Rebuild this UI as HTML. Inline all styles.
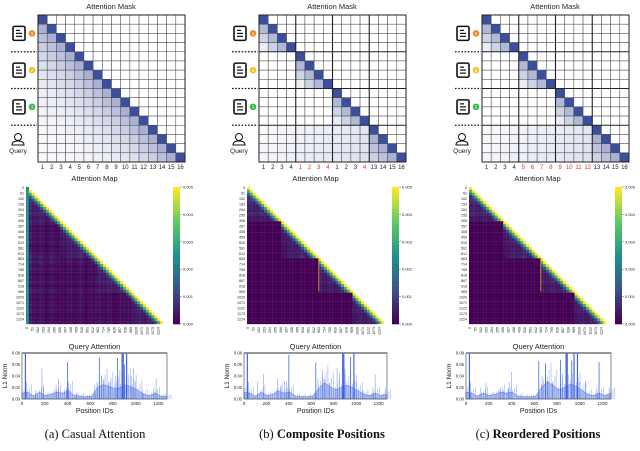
<!DOCTYPE html>
<html><head><meta charset="utf-8"><style>
body{margin:0;background:#fff;width:640px;height:446px;overflow:hidden}
svg text{font-family:"Liberation Sans",sans-serif}
</style></head><body>
<svg id="s" width="640" height="446" viewBox="0 0 640 446" xmlns="http://www.w3.org/2000/svg"></svg>
<script>
// ---------- data ----------
const maskLabelsA = ["1","2","3","4","5","6","7","8","9","10","11","12","13","14","15","16"];
const maskLabelsB = ["1","2","3","4","1","2","3","4","1","2","3","4","13","14","15","16"];
const maskLabelsC = ["1","2","3","4","5","6","7","8","9","10","11","12","13","14","15","16"];
const redB = [4,5,6,7,11];
const redC = [4,5,6,7,8,9,10,11];
const yTickLabels = [0,51,102,153,204,255,306,357,408,459,510,561,612,663,714,765,816,867,918,969,1020,1071,1122,1173,1224];
const cbTicks = [0.000,0.001,0.002,0.003,0.004,0.005];
const blockBounds = [0,306,663,969,1275];
const colNoise = [0.9,0.5,0.7,0.3,0.6,0.4,0.2,0.5,0.3,0.6,0.2,0.4,0.7,0.3,0.5,0.2,0.4,0.6,0.3,0.5,0.2,0.4,0.3,0.5];
const qTicksY = [0.00,0.02,0.04,0.06,0.08];
const qTicksX = [0,200,400,600,800,1000,1200];
const spikesA = [[30,0.08],[40,0.03],[120,0.015],[175,0.053],[190,0.02],[300,0.025],[320,0.035],[390,0.015],[400,0.064],[410,0.03],[480,0.01],[640,0.025],[660,0.03],[680,0.072],[700,0.04],[720,0.035],[760,0.03],[780,0.03],[820,0.04],[840,0.071],[860,0.05],[880,0.08],[890,0.08],[900,0.06],[920,0.08],[960,0.04],[980,0.053],[1000,0.03],[1060,0.015],[1160,0.02],[1180,0.035]];
const spikesB = [[30,0.08],[40,0.03],[120,0.03],[175,0.043],[300,0.035],[330,0.02],[360,0.031],[380,0.031],[400,0.077],[640,0.063],[660,0.035],[700,0.05],[720,0.033],[760,0.028],[830,0.054],[850,0.045],[880,0.08],[890,0.08],[900,0.053],[950,0.073],[980,0.08],[1000,0.03],[1060,0.015],[1150,0.02],[1170,0.043],[1260,0.02]];
const spikesC = [[30,0.08],[40,0.03],[130,0.02],[175,0.028],[300,0.02],[330,0.015],[370,0.02],[380,0.03],[400,0.047],[640,0.066],[670,0.04],[700,0.062],[720,0.032],[760,0.028],[830,0.068],[850,0.045],[880,0.08],[890,0.08],[930,0.067],[950,0.08],[980,0.08],[1000,0.03],[1050,0.03],[1150,0.02],[1170,0.064],[1260,0.02]];
const envA = [0.01,0.012,0.005,0.012,0.006,0.008,0.012,0.01,0.015,0.006,0.005,0.004,0.005,0.02,0.025,0.022,0.018,0.02,0.025,0.02,0.015,0.008,0.006,0.01,0.005,0.004];
const envB = [0.012,0.01,0.005,0.012,0.006,0.008,0.014,0.01,0.012,0.005,0.004,0.004,0.005,0.018,0.028,0.022,0.016,0.02,0.024,0.02,0.014,0.008,0.006,0.01,0.006,0.008];
const envC = [0.012,0.01,0.005,0.01,0.006,0.008,0.012,0.01,0.012,0.005,0.004,0.004,0.005,0.02,0.03,0.024,0.016,0.02,0.026,0.022,0.015,0.008,0.006,0.01,0.006,0.01];

const NS="http://www.w3.org/2000/svg";
const svg=document.getElementById('s');
function mk(tag,at,parent){const e=document.createElementNS(NS,tag);for(const k in at)e.setAttribute(k,at[k]);(parent||svg).appendChild(e);return e;}
function txt(x,y,s,size,extra,parent){const e=mk('text',Object.assign({x:x,y:y,'font-size':size,fill:'#222'},extra||{}),parent);e.textContent=s;return e;}
const stops=[[0,[68,1,84]],[0.25,[59,82,139]],[0.5,[33,145,140]],[0.75,[94,201,98]],[1,[253,231,37]]];
function viridis(t){t=Math.max(0,Math.min(1,t));for(let i=1;i<stops.length;i++){if(t<=stops[i][0]){const a=stops[i-1],b=stops[i];const f=(t-a[0])/(b[0]-a[0]);const c=a[1].map((v,k)=>Math.round(v+(b[1][k]-v)*f));return `rgb(${c})`;}}return 'rgb(253,231,37)';}
function blue(a){const c=[60,79,159];return `rgb(${c.map(v=>Math.round(255+(v-255)*a))})`;}

function panel(p){
  const g=mk('g',{});
  
  
  const gx=p.gx, gy=15, cs=147/16;
  const t=txt(gx+73,9,'Attention Mask',7.5,{'text-anchor':'middle'},g);
  
  for(let r=0;r<16;r++)for(let c=0;c<16;c++){
    let a=0;
    if(c<=r){
      const d=r-c;
      if(p.id==='a'){a=d===0?1:0.55*Math.exp(-d*0.25)+0.02;}
      else{
        const br=Math.floor(r/4),bc=Math.floor(c/4);
        if(br===bc&&br<3){a=d===0?1:0.55-d*0.15;}
        else if(br===3){a=d===0?1:(c>=12?0.55*Math.exp(-d*0.3)+0.04:0.03+0.01*c+(r-12)*0.008);}
      }
    }
    const rc=mk('rect',{x:gx+c*cs,y:gy+r*cs,width:cs,height:cs,fill:a>0?blue(a):'#fff',stroke:'#444','stroke-width':0.5},g);
    
  }
  if(p.id!=='a'){for(const k of [4,8,12]){mk('line',{x1:gx,x2:gx+147,y1:gy+k*cs,y2:gy+k*cs,stroke:'#222','stroke-width':1.1},g);mk('line',{y1:gy,y2:gy+147,x1:gx+k*cs,x2:gx+k*cs,stroke:'#222','stroke-width':1.1},g);}}
  mk('rect',{x:gx,y:gy,width:147,height:147,fill:'none',stroke:'#222','stroke-width':1},g);
  p.labels.forEach((s,i)=>{const e=txt(gx+i*cs+cs/2,169,s,6,{'text-anchor':'middle',fill:p.red.includes(i)?'#d33':'#222'},g);});
  const cols=['#f08a24','#f2c12e','#3cb54a'];
  for(let k=0;k<3;k++){
    const cy=gy+(2+4*k)*cs;
    const ic=mk('g',{},g);
    mk('rect',{x:gx-25,y:cy-7,width:12,height:14,rx:1.5,fill:'#fff',stroke:'#111','stroke-width':1.6},ic);
    for(let l=0;l<3;l++)mk('line',{x1:gx-22,x2:gx-22+(l==0?4:6),y1:cy-3+l*3,y2:cy-3+l*3,stroke:'#111','stroke-width':1.2},ic);
    mk('circle',{cx:gx-6,cy:cy,r:3.3,fill:cols[k]},ic);
    txt(gx-6,cy+1.8,String(k+1),4.5,{'text-anchor':'middle',fill:'#fff'},ic);
    mk('line',{x1:gx-27,x2:gx-1,y1:gy+(4+4*k)*cs,y2:gy+(4+4*k)*cs,stroke:'#111','stroke-width':1.3,'stroke-dasharray':'1.6,1.6'},g);
  }
  const q=mk('g',{},g);
  mk('circle',{cx:gx-20,cy:137,r:3.5,fill:'none',stroke:'#111','stroke-width':1},q);
  mk('path',{d:`M${gx-26} 145 q0 -4 6 -4 q6 0 6 4 z`,fill:'none',stroke:'#111','stroke-width':1},q);
  txt(gx-20,153,'Query',6.5,{'text-anchor':'middle'},q);

  const hx=p.hx, hy=187, hw=137, hh=137, N=48, c2=hw/N;
  const ht=txt(hx+hw/2,181,'Attention Map',7.5,{'text-anchor':'middle'},g);
  
  const blk=v=>{for(let b=1;b<blockBounds.length;b++)if(v<blockBounds[b])return b-1;return 3;};
  for(let i=0;i<N;i++)for(let j=0;j<=i;j++){
    const pi=i/N*1275,pj=j/N*1275;const bi=blk(pi),bj=blk(pj);const d=i-j;
    let v;
    if(p.id!=='a'&&bi!==bj){v=0;}
    else{
      v=colNoise[Math.floor(j/2)]*colNoise[i%24]*0.0009;
      if(bi===bj)v+=0.0004*Math.max(0,1-d/14);
      if(d===0)v=0.0052;else if(d===1)v=Math.max(v,0.0032);else if(d===2)v+=0.0008;
      if(p.id==='a'&&j===0)v=0.0025;
    }
    const r=mk('rect',{x:hx+j*c2,y:hy+i*c2,width:c2+0.15,height:c2+0.15,fill:viridis(v/0.005)},g);
    
  }
  if(p.id!=='a'){const xx=hx+blockBounds[2]/1275*hw;mk('rect',{x:xx,y:hy+blockBounds[2]/1275*hh,width:1,height:(blockBounds[3]-blockBounds[2])/1275*hh,fill:'#c8842c'},g);}
  yTickLabels.forEach(v=>{const y=hy+v/1275*hh+2;
    const e=txt(hx-2,y,String(v),3.6,{'text-anchor':'end'},g);
    const xx=hx+v/1275*hw+2;const e2=txt(xx,hy+hh+3,String(v),3.6,{'text-anchor':'end',transform:`rotate(-90 ${xx} ${hy+hh+3})`},g);});
  const cb=mk('g',{},g);
  for(let k=0;k<50;k++)mk('rect',{x:p.cbx,y:hy+hh-(k+1)*hh/50,width:7,height:hh/50+0.3,fill:viridis(k/49)},cb);
  cbTicks.forEach(v=>{const y=hy+hh-v/0.005*hh;mk('line',{x1:p.cbx+7,x2:p.cbx+9,y1:y,y2:y,stroke:'#333','stroke-width':0.4},cb);txt(p.cbx+10,y+1.5,v.toFixed(3),4,{},cb);});

  const qx=p.qx, qy=353, qw=p.qw, qh=46;
  const X=v=>qx+v/1275*qw, Y=v=>qy+qh-Math.min(v,0.08)/0.08*qh;
  const qt=txt(qx+qw/2,349,'Query Attention',7.5,{'text-anchor':'middle'},g);
  let d=`M${X(0)} ${Y(0)}`;p.env.forEach((v,k)=>{d+=` L${X(k*51)} ${Y(v)}`;});d+=` L${X(1275)} ${Y(0)} Z`;
  const ar=mk('path',{d:d,fill:'#6f8de8','fill-opacity':0.5,stroke:'#3f63d8','stroke-width':0.4},g);
  p.env.forEach((v,k)=>{for(let m=0;m<3;m++){const l=mk('line',{x1:X(k*51+m*17),x2:X(k*51+m*17),y1:Y(0),y2:Y(v*(1.3+0.4*m)),stroke:'#3f63d8','stroke-width':0.5,'stroke-opacity':0.6},g);}});
  p.spikes.forEach(s=>{const l=mk('line',{x1:X(s[0]),x2:X(s[0]),y1:Y(0),y2:Y(s[1]),stroke:'#2f55e0','stroke-width':s[1]>=0.08?1.2:0.8,'stroke-opacity':s[1]>=0.06?0.9:0.45},g);});
  mk('rect',{x:qx,y:qy,width:qw,height:qh,fill:'none',stroke:'#555','stroke-width':0.7},g);
  mk('line',{x1:qx,x2:qx+qw,y1:qy,y2:qy,stroke:'#777','stroke-width':1.5},g);
  qTicksY.forEach(v=>{const e=txt(qx-2,Y(v)+1.5,v.toFixed(2),4.2,{'text-anchor':'end'},g);});
  qTicksX.forEach(v=>{if(v>1275)return;const e=txt(X(v),qy+qh+6,String(v),4.5,{'text-anchor':'middle'},g);});
  const yl=txt(qx-15,qy+qh/2,'L1 Norm',6.5,{'text-anchor':'middle',transform:`rotate(-90 ${qx-15} ${qy+qh/2})`},g);
  const xl=txt(qx+qw/2,413,'Position IDs',7,{'text-anchor':'middle'},g);

  const cap=mk('text',{x:p.capx,y:438,'font-size':12.5,'text-anchor':'middle',fill:'#111',style:'font-family:"Liberation Serif",serif'},g);
  
  const t1=mk('tspan',{},cap);t1.textContent=p.cap1;
  const t2=mk('tspan',{'font-weight':p.bold?'bold':'normal'},cap);t2.textContent=p.cap2;
}
panel({id:'a',gx:38,labels:maskLabelsA,red:[],hx:26,cbx:173,qx:22,qw:145,spikes:spikesA,env:envA,capx:95,cap1:'(a) ',cap2:'Casual Attention',bold:false});
panel({id:'b',gx:259,labels:maskLabelsB,red:redB,hx:247,cbx:392,qx:244,qw:143,spikes:spikesB,env:envB,capx:322,cap1:'(b) ',cap2:'Composite Positions',bold:true});
panel({id:'c',gx:482,labels:maskLabelsC,red:redC,hx:469,cbx:615,qx:466,qw:145,spikes:spikesC,env:envC,capx:538,cap1:'(c) ',cap2:'Reordered Positions',bold:true});
</script>
</body></html>
